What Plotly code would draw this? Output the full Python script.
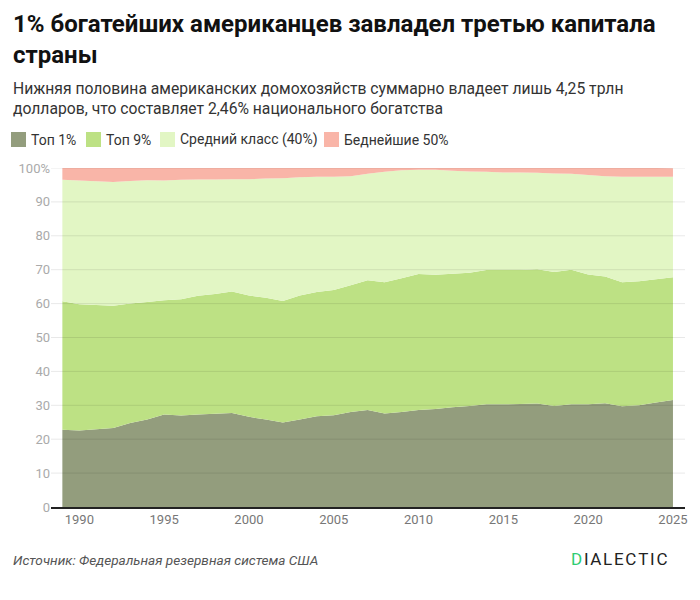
import plotly.graph_objects as go

years = list(range(1989, 2026))
top1 = [22.8, 22.6, 22.9, 23.3, 24.8, 25.8, 27.3, 27.0, 27.3, 27.5, 27.7, 26.6, 25.8,
        24.9, 25.8, 26.8, 27.1, 28.0, 28.6, 27.6, 28.0, 28.6, 28.9, 29.4, 29.8, 30.3,
        30.3, 30.4, 30.5, 29.8, 30.3, 30.3, 30.6, 29.7, 30.0, 30.8, 31.6]
top9 = [37.9, 37.2, 36.7, 36.1, 35.2, 34.7, 33.7, 34.3, 35.0, 35.3, 35.9, 35.8, 35.9,
        35.9, 36.6, 36.6, 36.9, 37.4, 38.3, 38.7, 39.5, 40.1, 39.6, 39.4, 39.3, 39.6,
        39.6, 39.5, 39.6, 39.5, 39.7, 38.3, 37.4, 36.6, 36.6, 36.4, 36.2]
middle = [35.8, 36.5, 36.5, 36.5, 36.2, 35.9, 35.3, 35.2, 34.3, 33.8, 33.1, 34.3, 35.2,
          36.2, 34.9, 34.0, 33.4, 32.2, 31.4, 32.6, 31.8, 30.8, 31.0, 30.4, 29.9, 29.0,
          28.8, 28.8, 28.5, 29.1, 28.3, 29.3, 29.6, 31.1, 30.8, 30.2, 29.6]
bottom = [3.5, 3.7, 3.9, 4.1, 3.8, 3.6, 3.7, 3.5, 3.4, 3.4, 3.3, 3.3, 3.1, 3.0, 2.7,
          2.6, 2.6, 2.4, 1.7, 1.1, 0.7, 0.5, 0.5, 0.8, 1.0, 1.1, 1.3, 1.3, 1.4, 1.6,
          1.7, 2.1, 2.4, 2.6, 2.6, 2.6, 2.5]

names = ["Топ 1%", "Топ 9%", "Средний класс (40%)", "Беднейшие 50%"]
colors = ["#939d7d", "#bde184", "#e2f6c4", "#f9b5a8"]
series = [top1, top9, middle, bottom]

y_ticks = [0, 10, 20, 30, 40, 50, 60, 70, 80, 90, 100]
y_labels = ["0", "10", "20", "30", "40", "50", "60", "70", "80", "90", "100%"]
x_ticks = [1990, 1995, 2000, 2005, 2010, 2015, 2020, 2025]

FONT = "Roboto"
W, H = 700, 600
L, R, T, B = 51, 685, 168, 507  # plot area in pixels


def px(x):
    return (x - L) / (R - L)


def py(y):
    return (B - y) / (B - T)


fig = go.Figure()
for nm, col, vals in zip(names, colors, series):
    fig.add_trace(go.Scatter(
        x=years, y=vals, name=nm, stackgroup="one", mode="none",
        fillcolor=col, line=dict(width=0), showlegend=False,
    ))

# gridlines over the areas
for v in y_ticks[1:]:
    fig.add_shape(type="line", xref="paper", yref="y", x0=0, x1=1, y0=v, y1=v,
                  line=dict(color="rgba(0,0,0,0.09)", width=1), layer="above")

# hand-made legend
leg_x = [11, 86, 160, 324]
annotations = []
for lx, nm, col in zip(leg_x, names, colors):
    fig.add_shape(type="rect", xref="paper", yref="paper",
                  x0=px(lx), x1=px(lx + 15), y0=py(147), y1=py(132),
                  fillcolor=col, line=dict(width=0))
    annotations.append(dict(text=nm, x=px(lx + 18), y=py(139.5), xref="paper", yref="paper",
                            xanchor="left", yanchor="middle", showarrow=False,
                            font=dict(size=14, color="#333", family=FONT)))

annotations += [
    dict(text="<b>1% богатейших американцев завладел третью капитала<br>страны</b>",
         x=px(11), y=py(8), xref="paper", yref="paper", xanchor="left", yanchor="top",
         align="left", showarrow=False, font=dict(size=24, color="#111", family=FONT)),
    dict(text="Нижняя половина американских домохозяйств суммарно владеет лишь 4,25 трлн<br>"
              "долларов, что составляет 2,46% национального богатства",
         x=px(11), y=py(77), xref="paper", yref="paper", xanchor="left", yanchor="top",
         align="left", showarrow=False, font=dict(size=15.7, color="#333", family=FONT)),
    dict(text="<i>Источник: Федеральная резервная система США</i>",
         x=px(11), y=py(560), xref="paper", yref="paper", xanchor="left", yanchor="middle",
         showarrow=False, font=dict(size=13.6, color="#555", family=FONT)),
    dict(text="<span style='color:#2ecc71'>D</span>\u200aI\u200aA\u200aL\u200aE\u200aC\u200aT\u200aI\u200aC",
         x=px(669), y=py(559), xref="paper", yref="paper", xanchor="right", yanchor="middle",
         showarrow=False, font=dict(size=17, color="#222", family=FONT)),
]

fig.update_layout(
    width=W, height=H,
    margin=dict(l=L, r=W - R, t=T, b=H - B, autoexpand=False),
    plot_bgcolor="white", paper_bgcolor="white",
    font=dict(family=FONT, color="#333"),
    showlegend=False,
    xaxis=dict(range=[1988.33, 2025.71], tickvals=x_ticks, showgrid=False,
               showline=True, linecolor="#222", linewidth=1.5, ticks="",
               tickfont=dict(size=13, color="#777"), automargin=False),
    yaxis=dict(range=[0, 100], tickvals=y_ticks, ticktext=y_labels,
               showgrid=False, zeroline=False, automargin=False,
               ticks="", tickfont=dict(size=13, color="#aaa")),
    annotations=annotations,
)

fig.write_html("out.html", config={"displayModeBar": False},
               post_script="document.body.style.margin='0px';")
